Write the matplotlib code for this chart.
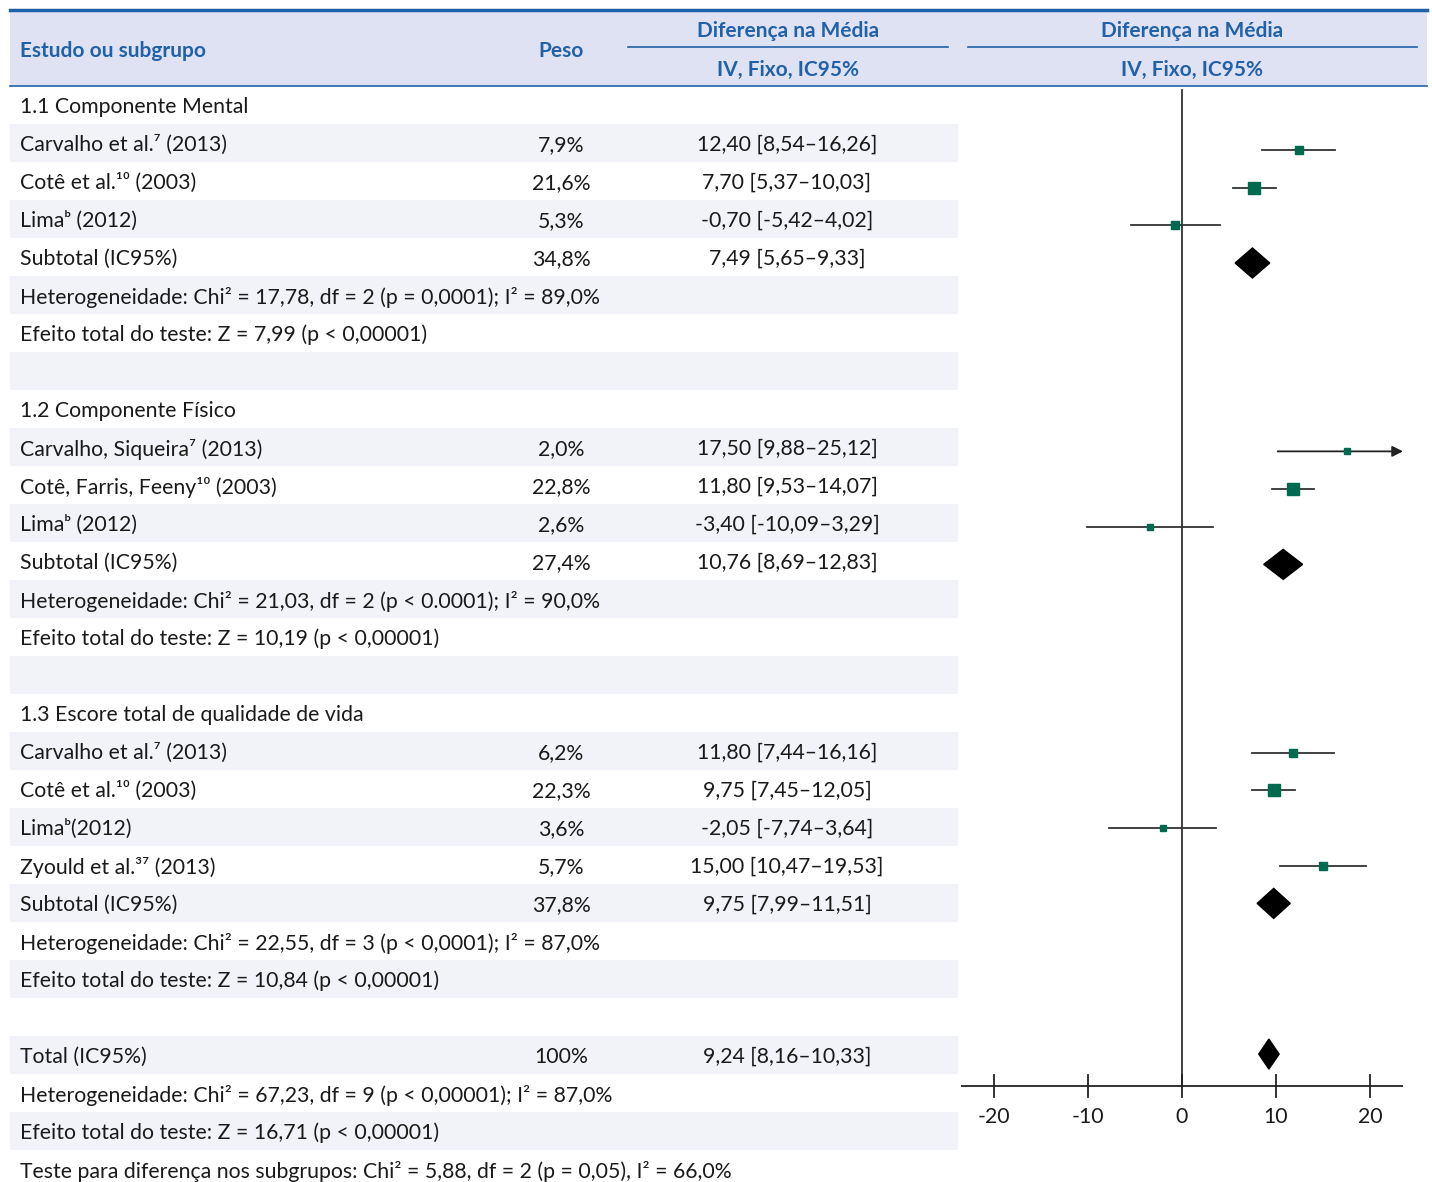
"""Forest plot - qualidade de vida"""

import matplotlib
matplotlib.use('Agg')
from matplotlib import pyplot as plt
from matplotlib.patches import Polygon, Rectangle

# Fonts
body_font = ['Lato', 'DejaVu Sans']
head_font = ['Lato', 'DejaVu Sans']

# Data (one entry per table row)
kinds = ['head', 'study', 'study', 'study', 'sub', 'text', 'text', 'blank',
         'head', 'study', 'study', 'study', 'sub', 'text', 'text', 'blank',
         'head', 'study', 'study', 'study', 'study', 'sub', 'text', 'text', 'blank',
         'sub', 'text', 'text', 'text']
names = [
    "1.1 Componente Mental",
    "Carvalho et al.\u2077 (2013)",
    "Cotê et al.\u00b9\u2070 (2003)",
    "Lima\u1d47 (2012)",
    "Subtotal (IC95%)",
    "Heterogeneidade: Chi² = 17,78, df = 2 (p = 0,0001); I² = 89,0%",
    "Efeito total do teste: Z = 7,99 (p < 0,00001)",
    "",
    "1.2 Componente Físico",
    "Carvalho, Siqueira\u2077 (2013)",
    "Cotê, Farris, Feeny\u00b9\u2070 (2003)",
    "Lima\u1d47 (2012)",
    "Subtotal (IC95%)",
    "Heterogeneidade: Chi² = 21,03, df = 2 (p < 0.0001); I² = 90,0%",
    "Efeito total do teste: Z = 10,19 (p < 0,00001)",
    "",
    "1.3 Escore total de qualidade de vida",
    "Carvalho et al.\u2077 (2013)",
    "Cotê et al.\u00b9\u2070 (2003)",
    "Lima\u1d47(2012)",
    "Zyould et al.\u00b3\u2077 (2013)",
    "Subtotal (IC95%)",
    "Heterogeneidade: Chi² = 22,55, df = 3 (p < 0,0001); I² = 87,0%",
    "Efeito total do teste: Z = 10,84 (p < 0,00001)",
    "",
    "Total (IC95%)",
    "Heterogeneidade: Chi² = 67,23, df = 9 (p < 0,00001); I² = 87,0%",
    "Efeito total do teste: Z = 16,71 (p < 0,00001)",
    "Teste para diferença nos subgrupos: Chi² = 5,88, df = 2 (p = 0,05), I² = 66,0%",
]
weights = [None, 7.9, 21.6, 5.3, 34.8, None, None, None,
           None, 2.0, 22.8, 2.6, 27.4, None, None, None,
           None, 6.2, 22.3, 3.6, 5.7, 37.8, None, None, None,
           100, None, None, None]
means = [None, 12.40, 7.70, -0.70, 7.49, None, None, None,
         None, 17.50, 11.80, -3.40, 10.76, None, None, None,
         None, 11.80, 9.75, -2.05, 15.00, 9.75, None, None, None,
         9.24, None, None, None]
lows = [None, 8.54, 5.37, -5.42, 5.65, None, None, None,
        None, 9.88, 9.53, -10.09, 8.69, None, None, None,
        None, 7.44, 7.45, -7.74, 10.47, 7.99, None, None, None,
        8.16, None, None, None]
highs = [None, 16.26, 10.03, 4.02, 9.33, None, None, None,
         None, 25.12, 14.07, 3.29, 12.83, None, None, None,
         None, 16.16, 12.05, 3.64, 19.53, 11.51, None, None, None,
         10.33, None, None, None]
ticks = [-20, -10, 0, 10, 20]

# Colours
blue = '#2161a8'
head_bg = '#dfe2f2'
stripe = '#f2f3f8'
green = '#006a4e'

W, H = 1432, 1182
fig = plt.figure(figsize=(W / 100, H / 100), dpi=100)

# Table axes in pixel units
ax = fig.add_axes([0, 0, 1, 1])
ax.set_xlim(0, W)
ax.set_ylim(H, 0)
ax.axis('off')

top, head_bottom, row_h = 10, 86, 38


def row_y(i):
    return head_bottom + row_h * i + row_h / 2


def plot_y(i):
    # the plot column has a slightly tighter row pitch than the table
    return 150 + 37.67 * (i - 1)


# Header
ax.add_patch(Rectangle((10, top), 1417, head_bottom - top, color=head_bg, lw=0, zorder=0))
ax.plot([10, 1427], [top, top], color=blue, lw=2.5)
ax.plot([10, 1427], [head_bottom, head_bottom], color=blue, lw=1.2)
ax.plot([628, 948], [47, 47], color=blue, lw=1.2)
ax.plot([968, 1417], [47, 47], color=blue, lw=1.2)
hk = dict(color=blue, fontweight='bold', family=head_font, fontsize=15, va='center')
ax.text(20, 51, "Estudo ou subgrupo", ha='left', **hk)
ax.text(561, 51, "Peso", ha='center', **hk)
for cx in (788, 1192):
    ax.text(cx, 31, "Diferença na Média", ha='center', **hk)
    ax.text(cx, 70, "IV, Fixo, IC95%", ha='center', **hk)

# Rows
bk = dict(family=body_font, fontsize=15.3, va='center', color='#1a1a1a')
for i, name in enumerate(names):
    y = row_y(i)
    if i % 2 == 1:
        ax.add_patch(Rectangle((10, y - row_h / 2), 948, row_h, color=stripe, lw=0, zorder=0))
    if name:
        ax.text(20, y + 2, name, ha='left', **bk)
    if kinds[i] in ('study', 'sub'):
        w = weights[i]
        ax.text(561, y + 2, (f"{w:.1f}%" if w < 100 else f"{w:.0f}%").replace('.', ','), ha='center', **bk)
        ci = f"{means[i]:.2f} [{lows[i]:.2f}–{highs[i]:.2f}]".replace('.', ',')
        ax.text(787, y + 2, ci, ha='center', **bk)

# Forest axes
x0, x1 = 961, 1403
fx = fig.add_axes([x0 / W, 0, (x1 - x0) / W, 1])
fx.set_xlim(-23.5, 23.5)
fx.set_ylim(H, 0)
fx.axis('off')

axis_y = 1086
fx.plot([0, 0], [90, axis_y], color='#333333', lw=1.3, zorder=1)
fx.plot([-23.5, 23.5], [axis_y, axis_y], color='#222222', lw=1.3)
for t in ticks:
    fx.plot([t, t], [axis_y - 11, axis_y + 11], color='#222222', lw=1.3)
    fx.text(t, axis_y + 31, str(t), ha='center', va='center', family=body_font, fontsize=15.3, color='#1a1a1a')

for i, k in enumerate(kinds):
    y = plot_y(i)
    if k == 'study':
        if highs[i] > 23.5:
            fx.annotate('', xy=(23.8, y), xytext=(lows[i], y),
                        arrowprops=dict(arrowstyle='-|>', color='#222222', lw=1.3,
                                        mutation_scale=16), annotation_clip=False)
        else:
            fx.plot([lows[i], highs[i]], [y, y], color='#333333', lw=1.3, zorder=2)
        side = (6 + 0.27 * weights[i]) * 0.72
        fx.plot(means[i], y, marker='s', ms=side, color=green, mec=green, zorder=3)
    elif k == 'sub':
        hh = 15
        fx.add_patch(Polygon([(lows[i], y), (means[i], y - hh), (highs[i], y),
                              (means[i], y + hh)], closed=True, color='black', zorder=3))

fig.savefig('out.png', dpi=100)
